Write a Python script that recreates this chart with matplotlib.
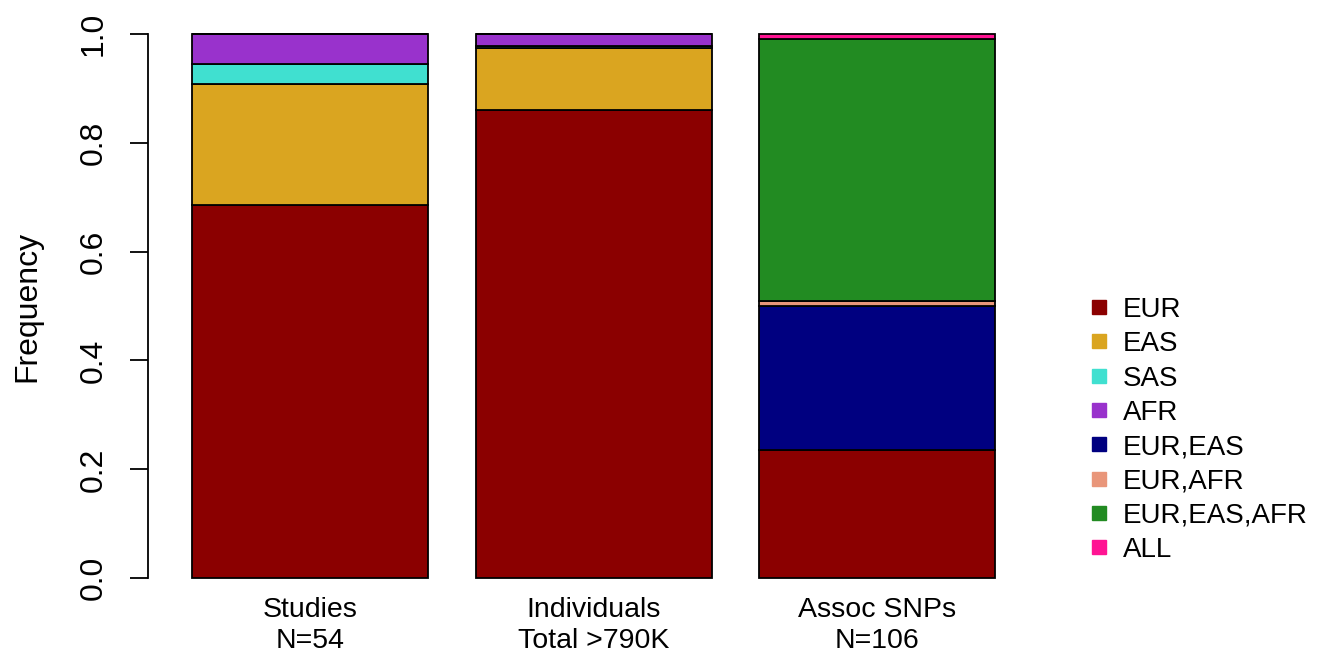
import numpy as np
import matplotlib
matplotlib.use("Agg")
import matplotlib.pyplot as plt
from matplotlib.lines import Line2D

plt.rcParams['font.family'] = ['Liberation Sans', 'DejaVu Sans']

# categories on the x axis
groups = ["Studies\nN=54", "Individuals\nTotal >790K", "Assoc SNPs\nN=106"]

# ancestry classes (stack order bottom -> top) and their colours
classes = ["EUR", "EAS", "SAS", "AFR", "EUR,EAS", "EUR,AFR", "EUR,EAS,AFR", "ALL"]
colors = ["#8B0000", "#DAA520", "#40E0D0", "#9932CC",
          "#000080", "#E9967A", "#228B22", "#FF1493"]

# frequencies per group, one list per class
eur     = [37/54, 0.860, 25/106]
eas     = [12/54, 0.114, 0.0]
sas     = [2/54, 0.004, 0.0]
afr     = [3/54, 0.022, 0.0]
eur_eas = [0.0, 0.0, 28/106]
eur_afr = [0.0, 0.0, 1/106]
eur_eas_afr = [0.0, 0.0, 51/106]
all_pop = [0.0, 0.0, 1/106]

series = [eur, eas, sas, afr, eur_eas, eur_afr, eur_eas_afr, all_pop]

W, H = 1331, 656
fig = plt.figure(figsize=(W/100, H/100), dpi=100)
ax = fig.add_axes([148/W, 1 - 600/H, (1027-148)/W, 588/H])

x = np.array([0.7, 1.9, 3.1])
bottom = np.zeros(3)
for vals, c in zip(series, colors):
    vals = np.array(vals)
    ax.bar(x, vals, width=1.0, bottom=bottom, color=c,
           edgecolor="black", linewidth=1.3)
    bottom += vals

ax.set_xlim(0.0127, 3.736)
ax.set_ylim(-0.04, 1.04)

for s in ["top", "right", "bottom"]:
    ax.spines[s].set_visible(False)
ax.spines["left"].set_bounds(0, 1)
ax.spines["left"].set_linewidth(1.3)

ax.set_yticks([0, 0.2, 0.4, 0.6, 0.8, 1.0])
ax.set_yticklabels(["0.0", "0.2", "0.4", "0.6", "0.8", "1.0"],
                   rotation=90, va="center", fontsize=23)
ax.tick_params(axis="y", length=13, width=1.3, pad=15)

ax.set_xticks(x)
ax.set_xticklabels(groups, fontsize=20.5, linespacing=1.23)
ax.tick_params(axis="x", length=0, pad=-2)

ax.set_ylabel("Frequency", fontsize=23)
ax.yaxis.set_label_coords(-106/879, 0.5)

handles = [Line2D([], [], marker="s", linestyle="none", markersize=9.5,
                  markerfacecolor=c, markeredgecolor=c) for c in colors]
fig.legend(handles, classes, loc="center left",
           bbox_to_anchor=(1077/W, 1 - 430/H), frameon=False,
           fontsize=20, handlelength=0.75, handletextpad=0.5,
           labelspacing=0.3, borderaxespad=0)

fig.savefig("out.png", dpi=100)
